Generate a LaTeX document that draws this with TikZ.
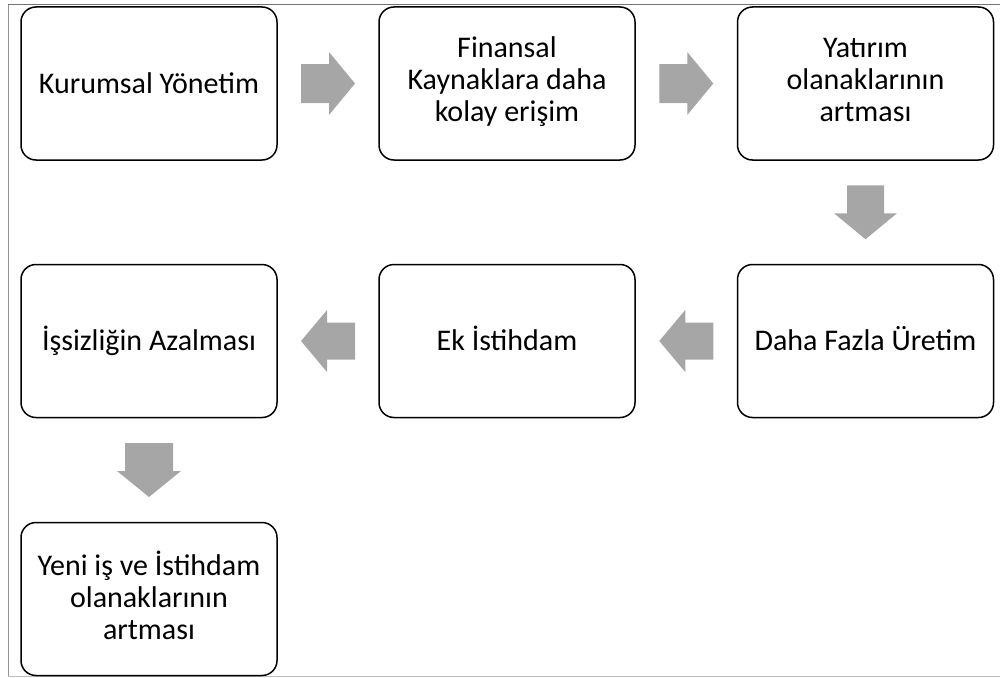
\documentclass[tikz,border=0pt]{standalone}
\usepackage{fontspec}
\setmainfont{Carlito}
\usetikzlibrary{calc}
\definecolor{arrowgray}{HTML}{A6A6A6}
% fixed line height/depth so accented capitals do not shift the text
\newcommand\boxstrut{\rule[-8pt]{0pt}{35pt}}
\newcommand\boxstart{\lineskiplimit=-100pt\relax\boxstrut}
\tikzset{
  x=1pt, y=-1pt,
  stepbox/.style={draw=black, line width=1.5pt, rounded corners=15pt, fill=white,
    minimum width=256pt, minimum height=153pt, align=center, inner sep=0pt,
    font=\fontsize{30}{32}\selectfont,
    execute at begin node=\boxstart, execute at end node=\boxstrut},
  % block arrow pointing along +x, centred at the pic origin
  pics/barrow/.style args={#1/#2}{code={
    \fill[arrowgray] (-27,-#1) -- (1,-#1) -- (1,-#2) -- (27,0) -- (1,#2) -- (1,#1) -- (-27,#1) -- cycle;
  }}
}
\begin{document}
\begin{tikzpicture}
\useasboundingbox (0,0) rectangle (1000,677);
% thin frame lines
\draw[black!55, line width=1pt] (8,5) -- (1000,5);
\draw[black!42, line width=1pt] (8,5) -- (8,677);
\draw[black!25, line width=1pt] (8,676) -- (1000,676);

% boxes
\node[stepbox] (kur) at (149,83.5) {Kurumsal Yönetim};
\node[stepbox] (fin) at (507,83.5) {Finansal\\Kaynaklara daha\\kolay erişim};
\node[stepbox] (yat) at (865.5,83.5) {Yatırım\\olanaklarının\\artması};
\node[stepbox] (uret) at (865.5,341) {Daha Fazla Üretim};
\node[stepbox] (ek) at (507,341) {Ek İstihdam};
\node[stepbox] (iss) at (149,341) {İşsizliğin Azalması};
\node[stepbox] (yeni) at (149,599) {Yeni iş ve İstihdam\\olanaklarının\\artması};

% block arrows between the boxes
\pic at ($(kur.east)!0.5!(fin.west)$) {barrow={19.5/31.5}};
\pic at ($(fin.east)!0.5!(yat.west)$) {barrow={19.5/31.5}};
\pic[rotate=-90] at ($(yat.south)!0.5!(uret.north)$) {barrow={18.5/31.5}};
\pic[rotate=180] at ($(uret.west)!0.5!(ek.east)$) {barrow={18.5/31}};
\pic[rotate=180] at ($(ek.west)!0.5!(iss.east)$) {barrow={18.5/31}};
\pic[rotate=-90] at ($(iss.south)!0.5!(yeni.north)$) {barrow={24/32}};
\end{tikzpicture}
\end{document}
